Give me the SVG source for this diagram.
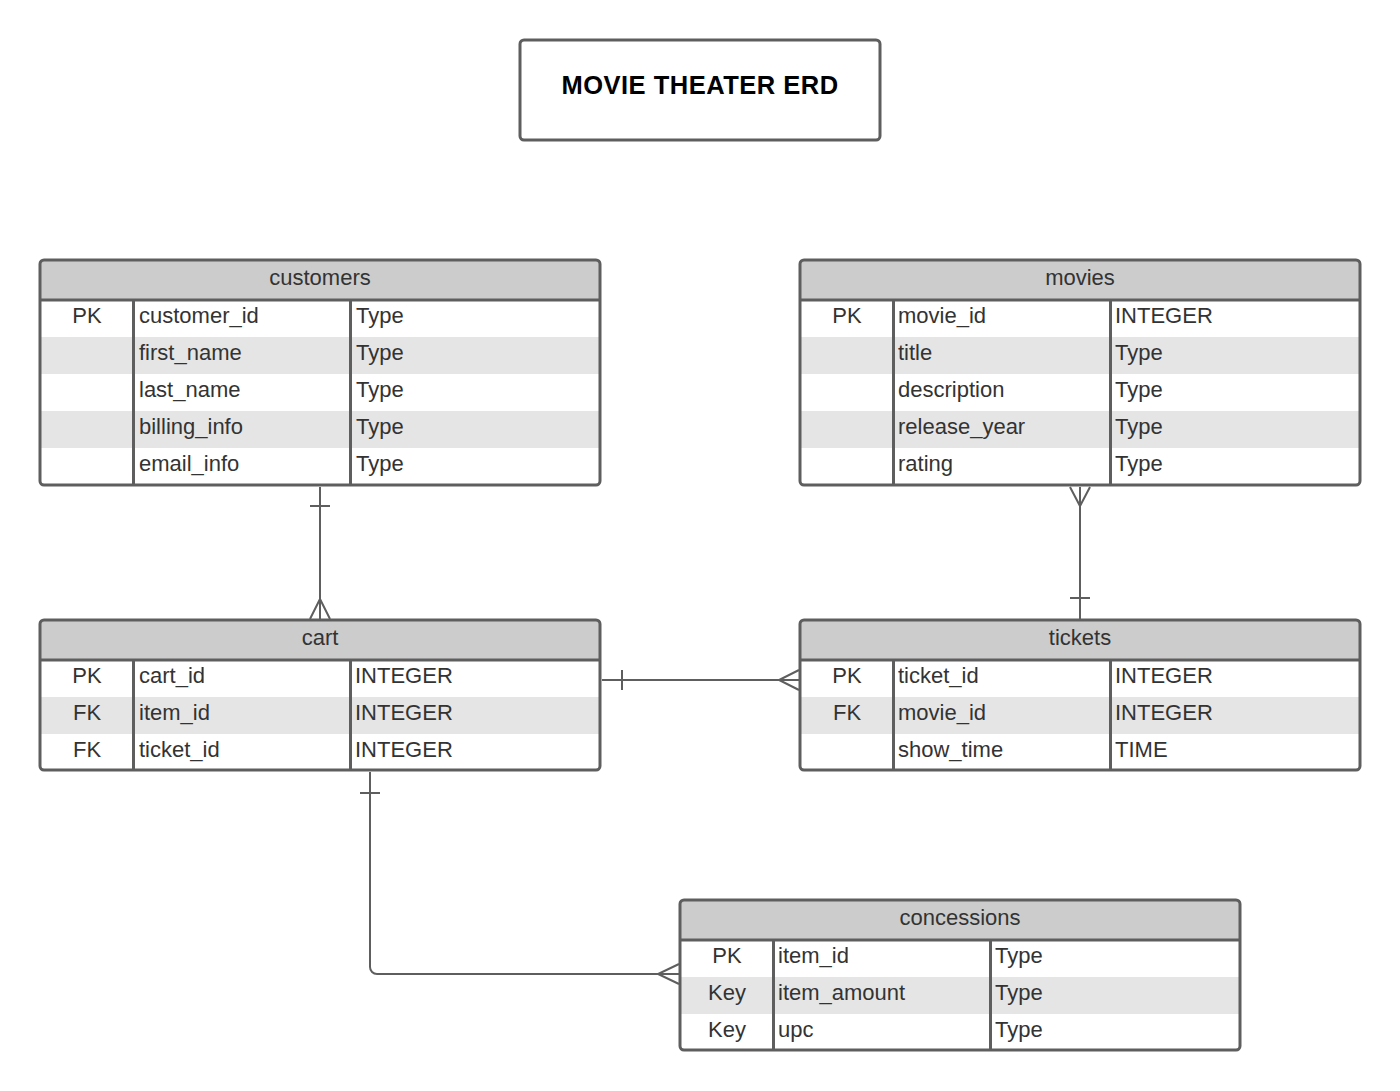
<svg xmlns="http://www.w3.org/2000/svg" width="1400" height="1091" viewBox="0 0 1400 1091">
<style>
text{font-family:"Liberation Sans",Arial,sans-serif;font-size:22px;fill:#333}
.hdr{fill:#cccccc}
.alt{fill:#e5e5e5}
.frame{fill:none;stroke:#5e5e5e;stroke-width:3}
.div{stroke:#5e5e5e;stroke-width:3}
.c{text-anchor:middle}
.title{font-size:25.5px;font-weight:bold;fill:#000;letter-spacing:0.5px}
.conn{fill:none;stroke:#5e5e5e;stroke-width:2}
</style>
<rect width="1400" height="1091" fill="#fff"/>
<g id="title">
<rect x="520" y="40" width="360" height="100" rx="4" fill="#fff" stroke="#5e5e5e" stroke-width="3"/>
<text class="title c" x="700" y="94">MOVIE THEATER ERD</text>
</g>
<g id="customers">
<path class="hdr" d="M44 260H596a4 4 0 0 1 4 4V300H40V264a4 4 0 0 1 4-4z"/>
<rect class="alt" x="40" y="337" width="560" height="37"/>
<rect class="alt" x="40" y="411" width="560" height="37"/>
<rect class="frame" x="40" y="260" width="560" height="225" rx="4"/>
<line class="div" x1="40" y1="300" x2="600" y2="300"/>
<line class="div" x1="133.5" y1="300" x2="133.5" y2="485"/>
<line class="div" x1="350.5" y1="300" x2="350.5" y2="485"/>
<text class="c" x="320" y="285">customers</text>
<text class="c" x="87" y="323">PK</text>
<text x="139" y="323">customer_id</text><text x="356" y="323">Type</text>
<text x="139" y="360">first_name</text><text x="356" y="360">Type</text>
<text x="139" y="397">last_name</text><text x="356" y="397">Type</text>
<text x="139" y="434">billing_info</text><text x="356" y="434">Type</text>
<text x="139" y="471">email_info</text><text x="356" y="471">Type</text>
</g>
<g id="movies">
<path class="hdr" d="M804 260H1356a4 4 0 0 1 4 4V300H800V264a4 4 0 0 1 4-4z"/>
<rect class="alt" x="800" y="337" width="560" height="37"/>
<rect class="alt" x="800" y="411" width="560" height="37"/>
<rect class="frame" x="800" y="260" width="560" height="225" rx="4"/>
<line class="div" x1="800" y1="300" x2="1360" y2="300"/>
<line class="div" x1="893.5" y1="300" x2="893.5" y2="485"/>
<line class="div" x1="1110.5" y1="300" x2="1110.5" y2="485"/>
<text class="c" x="1080" y="285">movies</text>
<text class="c" x="847" y="323">PK</text>
<text x="898" y="323">movie_id</text><text x="1115" y="323">INTEGER</text>
<text x="898" y="360">title</text><text x="1115" y="360">Type</text>
<text x="898" y="397">description</text><text x="1115" y="397">Type</text>
<text x="898" y="434">release_year</text><text x="1115" y="434">Type</text>
<text x="898" y="471">rating</text><text x="1115" y="471">Type</text>
</g>
<g id="cart">
<path class="hdr" d="M44 620H596a4 4 0 0 1 4 4V660H40V624a4 4 0 0 1 4-4z"/>
<rect class="alt" x="40" y="697" width="560" height="37"/>
<rect class="frame" x="40" y="620" width="560" height="150" rx="4"/>
<line class="div" x1="40" y1="660" x2="600" y2="660"/>
<line class="div" x1="133.5" y1="660" x2="133.5" y2="770"/>
<line class="div" x1="350.5" y1="660" x2="350.5" y2="770"/>
<text class="c" x="320" y="645">cart</text>
<text class="c" x="87" y="683">PK</text>
<text x="139" y="683">cart_id</text><text x="355" y="683">INTEGER</text>
<text class="c" x="87" y="720">FK</text>
<text x="139" y="720">item_id</text><text x="355" y="720">INTEGER</text>
<text class="c" x="87" y="757">FK</text>
<text x="139" y="757">ticket_id</text><text x="355" y="757">INTEGER</text>
</g>
<g id="tickets">
<path class="hdr" d="M804 620H1356a4 4 0 0 1 4 4V660H800V624a4 4 0 0 1 4-4z"/>
<rect class="alt" x="800" y="697" width="560" height="37"/>
<rect class="frame" x="800" y="620" width="560" height="150" rx="4"/>
<line class="div" x1="800" y1="660" x2="1360" y2="660"/>
<line class="div" x1="893.5" y1="660" x2="893.5" y2="770"/>
<line class="div" x1="1110.5" y1="660" x2="1110.5" y2="770"/>
<text class="c" x="1080" y="645">tickets</text>
<text class="c" x="847" y="683">PK</text>
<text x="898" y="683">ticket_id</text><text x="1115" y="683">INTEGER</text>
<text class="c" x="847" y="720">FK</text>
<text x="898" y="720">movie_id</text><text x="1115" y="720">INTEGER</text>
<text x="898" y="757">show_time</text><text x="1115" y="757">TIME</text>
</g>
<g id="concessions">
<path class="hdr" d="M684 900H1236a4 4 0 0 1 4 4V940H680V904a4 4 0 0 1 4-4z"/>
<rect class="alt" x="680" y="977" width="560" height="37"/>
<rect class="frame" x="680" y="900" width="560" height="150" rx="4"/>
<line class="div" x1="680" y1="940" x2="1240" y2="940"/>
<line class="div" x1="773.5" y1="940" x2="773.5" y2="1050"/>
<line class="div" x1="990.5" y1="940" x2="990.5" y2="1050"/>
<text class="c" x="960" y="925">concessions</text>
<text class="c" x="727" y="963">PK</text>
<text x="778" y="963">item_id</text><text x="995" y="963">Type</text>
<text class="c" x="727" y="1000">Key</text>
<text x="778" y="1000">item_amount</text><text x="995" y="1000">Type</text>
<text class="c" x="727" y="1037">Key</text>
<text x="778" y="1037">upc</text><text x="995" y="1037">Type</text>
</g>
<g id="connectors">
<path class="conn" d="M320 487V619M310 506H330M310 619L320 599L330 619M320 599V619"/>
<path class="conn" d="M602 680H799M622 670V690M799 670L779 680L799 690"/>
<path class="conn" d="M1080 487V619M1070 598H1090M1070 487L1080 506L1090 487"/>
<path class="conn" d="M370 772V967a7 7 0 0 0 7 7H679M360 793H380M679 964L658 974L679 984"/>
</g>
</svg>
